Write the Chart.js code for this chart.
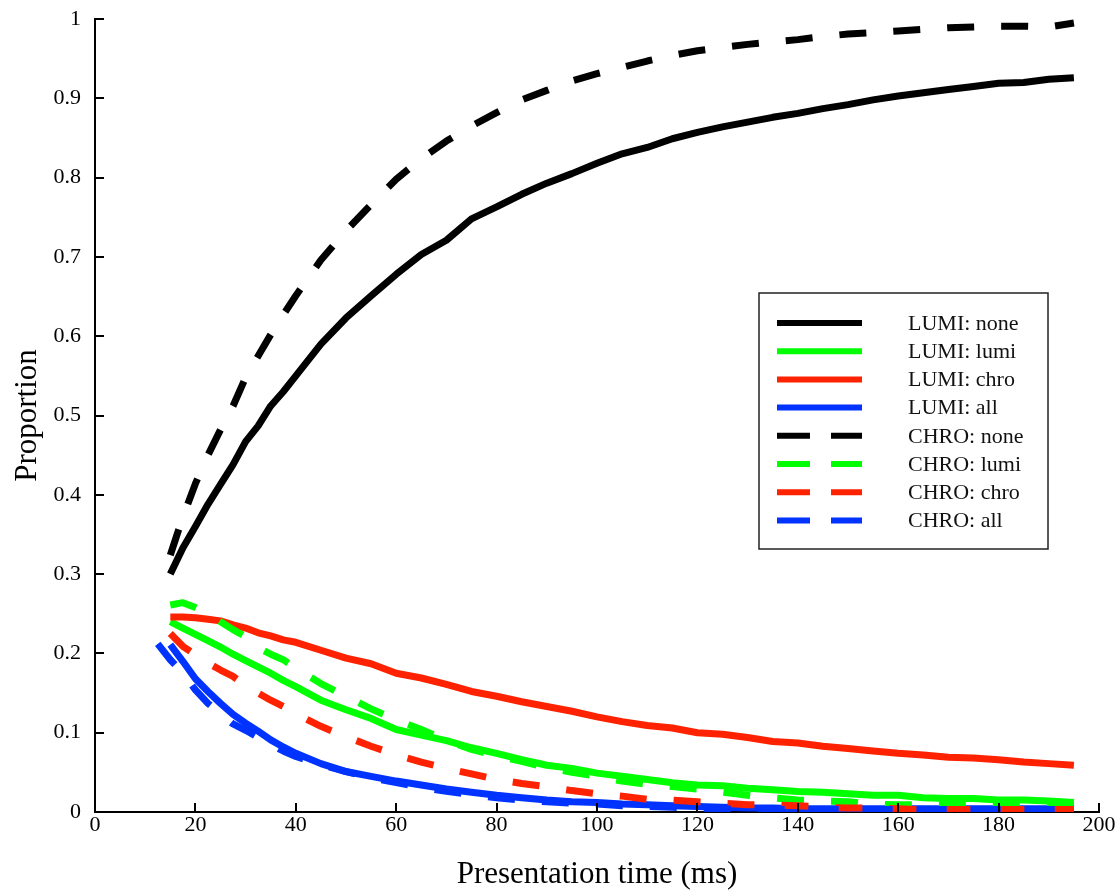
<!DOCTYPE html>
<html>
<head>
<meta charset="utf-8">
<script src="https://cdn.jsdelivr.net/npm/chart.js@4.4.1/dist/chart.umd.min.js"></script>
<style>
  html, body { margin: 0; padding: 0; background: #fff; }
  #chart { display: block; }
</style>
</head>
<body>
<canvas id="chart" width="1120" height="890"></canvas>
<script>
// ---------- data ----------
const times = [12.5, 15, 17.5, 20, 22.5, 25, 27.5, 30, 32.5, 35, 37.5, 40, 45, 50, 55, 60, 65, 70, 75, 80,
  85, 90, 95, 100, 105, 110, 115, 120, 125, 130, 135, 140, 145, 150, 155, 160, 165, 170, 175, 180, 185, 190, 195];

const lumiNone = [null, 0.300, 0.333, 0.360, 0.388, 0.413, 0.438, 0.467, 0.487, 0.512, 0.530, 0.550, 0.590, 0.623,
  0.651, 0.678, 0.703, 0.721, 0.748, 0.763, 0.779, 0.793, 0.805, 0.818, 0.830, 0.838, 0.849, 0.857, 0.864, 0.870,
  0.876, 0.881, 0.887, 0.892, 0.898, 0.903, 0.907, 0.911, 0.915, 0.919, 0.920, 0.924, 0.926];
const lumiLumi = [null, 0.240, 0.232, 0.224, 0.216, 0.208, 0.199, 0.191, 0.183, 0.175, 0.166, 0.158, 0.141, 0.129,
  0.118, 0.104, 0.097, 0.090, 0.081, 0.074, 0.066, 0.059, 0.055, 0.049, 0.045, 0.041, 0.037, 0.034, 0.033, 0.030,
  0.028, 0.026, 0.025, 0.023, 0.021, 0.021, 0.018, 0.017, 0.017, 0.015, 0.015, 0.014, 0.012];
const lumiChro = [null, 0.246, 0.246, 0.245, 0.243, 0.241, 0.236, 0.232, 0.226, 0.222, 0.217, 0.214, 0.204, 0.194,
  0.187, 0.175, 0.169, 0.161, 0.152, 0.146, 0.139, 0.133, 0.127, 0.120, 0.114, 0.109, 0.106, 0.100, 0.098, 0.094,
  0.089, 0.087, 0.083, 0.080, 0.077, 0.074, 0.072, 0.069, 0.068, 0.066, 0.063, 0.061, 0.059];
const lumiAll = [null, 0.211, 0.190, 0.168, 0.152, 0.137, 0.123, 0.112, 0.102, 0.091, 0.082, 0.074, 0.061, 0.051,
  0.045, 0.039, 0.034, 0.029, 0.025, 0.021, 0.018, 0.015, 0.013, 0.012, 0.010, 0.009, 0.008, 0.007, 0.006, 0.005,
  0.005, 0.004, 0.004, 0.004, 0.004, 0.004, 0.004, 0.004, 0.004, 0.004, 0.004, 0.004, 0.004];
const chroNone = [null, 0.324, 0.372, 0.414, 0.450, 0.482, 0.512, 0.548, 0.575, 0.602, 0.627, 0.651, 0.696, 0.733,
  0.766, 0.798, 0.824, 0.846, 0.865, 0.882, 0.898, 0.910, 0.922, 0.931, 0.939, 0.947, 0.954, 0.960, 0.964, 0.968,
  0.971, 0.974, 0.978, 0.981, 0.983, 0.985, 0.987, 0.989, 0.990, 0.991, 0.991, 0.990, 0.995];
const chroLumi = [null, 0.261, 0.264, 0.258, 0.250, 0.240, 0.230, 0.221, 0.207, 0.199, 0.192, 0.181, 0.162, 0.146,
  0.130, 0.116, 0.104, 0.090, 0.079, 0.071, 0.064, 0.056, 0.050, 0.045, 0.039, 0.035, 0.032, 0.029, 0.025, 0.021,
  0.018, 0.015, 0.014, 0.013, 0.010, 0.009, 0.009, 0.009, 0.010, 0.010, 0.010, 0.010, 0.010];
const chroChro = [null, 0.225, 0.209, 0.198, 0.188, 0.179, 0.171, 0.159, 0.150, 0.141, 0.133, 0.124, 0.108, 0.095,
  0.083, 0.072, 0.063, 0.055, 0.048, 0.041, 0.036, 0.032, 0.027, 0.023, 0.020, 0.016, 0.015, 0.013, 0.011, 0.009,
  0.009, 0.008, 0.006, 0.005, 0.005, 0.004, 0.003, 0.003, 0.003, 0.003, 0.003, 0.003, 0.003];
const chroAll = [0.212, 0.192, 0.175, 0.154, 0.137, 0.124, 0.111, 0.103, 0.094, 0.085, 0.077, 0.070, 0.060, 0.051,
  0.043, 0.037, 0.031, 0.026, 0.022, 0.018, 0.015, 0.013, 0.011, 0.010, 0.008, 0.007, 0.006, 0.005, 0.004, 0.003,
  0.003, 0.003, 0.003, 0.003, 0.003, 0.003, 0.003, 0.003, 0.003, 0.003, 0.003, 0.003, 0.003];

const seriesLabels = ['LUMI: none', 'LUMI: lumi', 'LUMI: chro', 'LUMI: all',
  'CHRO: none', 'CHRO: lumi', 'CHRO: chro', 'CHRO: all'];
const seriesValues = [lumiNone, lumiLumi, lumiChro, lumiAll, chroNone, chroLumi, chroChro, chroAll];

const xTicks = [0, 20, 40, 60, 80, 100, 120, 140, 160, 180, 200];
const yTicks = [0, 0.1, 0.2, 0.3, 0.4, 0.5, 0.6, 0.7, 0.8, 0.9, 1];

// ---------- styling ----------
const SERIF = '"Liberation Serif", "Times New Roman", serif';
const COLORS = ['#000000', '#00ff00', '#ff2200', '#0033ff'];
const PLOT_DASH = [27, 27];
const LEGEND_DASH = [33, 21];

const datasets = seriesValues.map((vals, i) => ({
  label: seriesLabels[i],
  data: times.map((t, j) => ({ x: t, y: vals[j] })),
  borderColor: COLORS[i % 4],
  borderWidth: 7,
  borderDash: i >= 4 ? PLOT_DASH : [],
  borderCapStyle: 'butt',
  borderJoinStyle: 'round',
  pointRadius: 0,
  tension: 0,
  fill: false,
  order: 8 - i // later series on top
}));

// ticks pointing into the plot area
const inwardTicks = {
  id: 'inwardTicks',
  afterDraw(chart) {
    const { ctx, chartArea: a, scales } = chart;
    ctx.save();
    ctx.strokeStyle = '#000';
    ctx.lineWidth = 2;
    ctx.beginPath();
    scales.x.ticks.forEach((t, i) => {
      const px = Math.round(scales.x.getPixelForTick(i));
      ctx.moveTo(px, a.bottom);
      ctx.lineTo(px, a.bottom - 9);
    });
    scales.y.ticks.forEach((t, i) => {
      const py = Math.round(scales.y.getPixelForTick(i));
      ctx.moveTo(a.left, py);
      ctx.lineTo(a.left + 9, py);
    });
    ctx.stroke();
    ctx.restore();
  }
};

// boxed legend inside the plot
const legendBox = {
  id: 'legendBox',
  afterDraw(chart) {
    const ctx = chart.ctx;
    const box = { left: 759, top: 293, w: 289, h: 256 };
    ctx.save();
    ctx.fillStyle = '#fff';
    ctx.fillRect(box.left, box.top, box.w, box.h);
    ctx.strokeStyle = '#222';
    ctx.lineWidth = 1.5;
    ctx.strokeRect(box.left, box.top, box.w, box.h);
    ctx.font = '22px ' + SERIF;
    ctx.textBaseline = 'middle';
    ctx.textAlign = 'left';
    chart.data.datasets.forEach((ds, i) => {
      const y = 323 + i * 28.2;
      ctx.strokeStyle = ds.borderColor;
      ctx.lineWidth = 6;
      ctx.lineCap = 'butt';
      ctx.setLineDash(ds.borderDash.length ? LEGEND_DASH : []);
      ctx.beginPath();
      ctx.moveTo(777, y);
      ctx.lineTo(862, y);
      ctx.stroke();
      ctx.setLineDash([]);
      ctx.fillStyle = '#111';
      ctx.fillText(ds.label, 908, y + 1);
    });
    ctx.restore();
  }
};

new Chart(document.getElementById('chart'), {
  type: 'line',
  data: { datasets },
  options: {
    responsive: false,
    animation: false,
    devicePixelRatio: 1,
    layout: { padding: { top: 19, right: 21, left: 0, bottom: 0 } },
    plugins: { legend: { display: false }, tooltip: { enabled: false } },
    scales: {
      x: {
        type: 'linear',
        min: xTicks[0],
        max: xTicks[xTicks.length - 1],
        afterBuildTicks: s => { s.ticks = xTicks.map(v => ({ value: v })); },
        afterFit: s => { s.height = 78; s.paddingLeft = 0; s.paddingRight = 0; },
        grid: { display: true, drawOnChartArea: false, drawTicks: false },
        border: { display: true, color: '#000', width: 2 },
        ticks: {
          padding: 0,
          color: '#000',
          font: { family: SERIF, size: 22 },
          callback: v => String(v)
        },
        title: {
          display: true,
          text: 'Presentation time (ms)',
          color: '#000',
          font: { family: SERIF, size: 31, lineHeight: 1 },
          padding: { top: 0, bottom: 0 }
        }
      },
      y: {
        type: 'linear',
        min: yTicks[0],
        max: yTicks[yTicks.length - 1],
        afterBuildTicks: s => { s.ticks = yTicks.map(v => ({ value: v })); },
        afterFit: s => { s.width = 95; s.paddingTop = 0; s.paddingBottom = 0; },
        grid: { display: true, drawOnChartArea: false, drawTicks: false },
        border: { display: true, color: '#000', width: 2 },
        ticks: {
          padding: 14,
          color: '#000',
          font: { family: SERIF, size: 22 },
          callback: v => String(Math.round(v * 10) / 10)
        },
        title: {
          display: true,
          text: 'Proportion',
          color: '#000',
          font: { family: SERIF, size: 31 },
          padding: { top: 9, bottom: 0 }
        }
      }
    }
  },
  plugins: [inwardTicks, legendBox]
});
</script>
</body>
</html>
